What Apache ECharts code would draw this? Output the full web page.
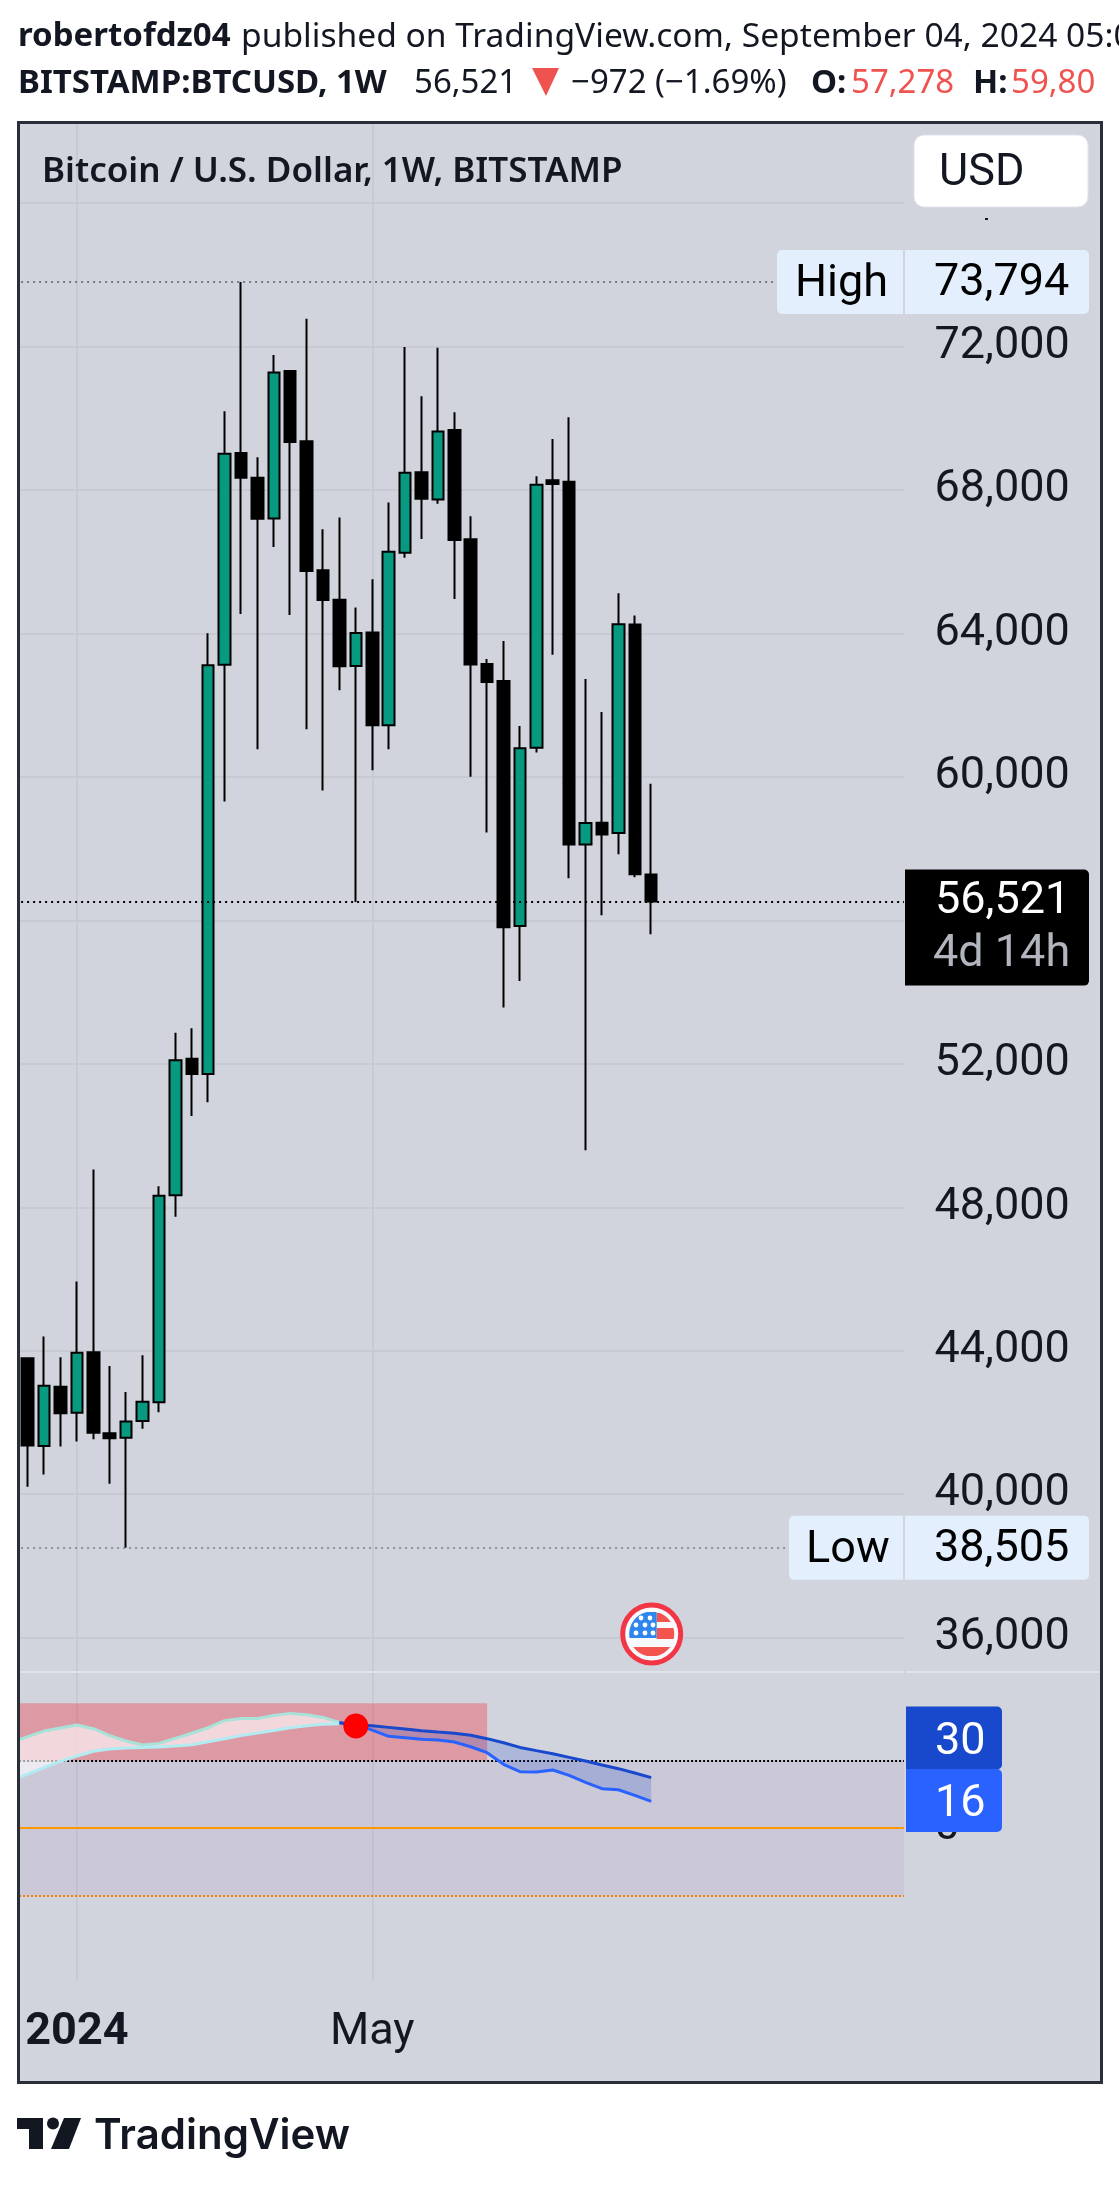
<!DOCTYPE html>
<html>
<head>
<meta charset="utf-8">
<style>html,body{margin:0;padding:0;background:#fff}#c{width:1119px;height:2185px}</style>
<script src="https://cdn.jsdelivr.net/npm/echarts@6/dist/echarts.min.js"></script>
</head>
<body>
<div id="c"></div>
<script>
const categories = ['2023-12-04','2023-12-11','2023-12-18','2023-12-25','2024-01-01','2024-01-08','2024-01-15','2024-01-22','2024-01-29','2024-02-05','2024-02-12','2024-02-19','2024-02-26','2024-03-04','2024-03-11','2024-03-18','2024-03-25','2024-04-01','2024-04-08','2024-04-15','2024-04-22','2024-04-29','2024-05-06','2024-05-13','2024-05-20','2024-05-27','2024-06-03','2024-06-10','2024-06-17','2024-06-24','2024-07-01','2024-07-08','2024-07-15','2024-07-22','2024-07-29','2024-08-05','2024-08-12','2024-08-19','2024-08-26','2024-09-02','2024-09-09','2024-09-16','2024-09-23','2024-09-30','2024-10-07','2024-10-14','2024-10-21','2024-10-28','2024-11-04','2024-11-11','2024-11-18','2024-11-25','2024-12-02','2024-12-09','2024-12-16'];
const opens  = [null,43788,41346,42993,42269,43958,41700,41573,42041,42567,48332,52138,51712,63122,69028,68339,67202,71312,69357,65756,64938,63092,64020,61436,66244,68489,67731,69666,66623,63146,62673,55843,60808,68269,68229,58116,58720,58432,64249,57278];
const closes = [null,41360,43021,42254,43944,41715,41558,42027,42581,48318,52095,51712,63112,69008,68339,67192,71272,69337,65736,64928,63082,64010,61436,66274,68479,67751,69626,66603,63128,62645,55806,60798,68140,68160,58116,58710,58395,64250,57281,56521];
const lows   = [null,40210,40550,41331,41473,41530,40295,38505,41828,42283,47736,50547,50931,59312,64539,60768,66404,64509,61327,59621,62413,56511,60180,60768,66105,66633,67611,64958,60000,58450,53566,54310,60678,63406,57170,49591,56140,57838,57198,55611];
const highs  = [null,43816,44399,43816,45932,49056,43575,42851,43873,48588,52862,52990,64000,70195,73794,68908,71761,71312,72768,66903,67232,64718,65506,67651,71980,70613,71960,70165,67262,63285,63787,61420,68379,69416,70025,62729,61810,65117,64499,59805];
const priceTicks = [36000,40000,44000,48000,52000,56000,60000,64000,68000,72000];
const timeLabels = {'2024-01-01':'{b|2024}','2024-05-06':'{n|May}'};
const highValue = 73794, lowValue = 38505, lastValue = 56521;
const upperPink = [50.6,54.2,57.5,59.3,61.1,58.9,54.8,51.6,49.2,50.2,53.2,56.2,59.5,63.7,65.0,65.0,66.8,68.0,67.2,65.6,62.7];
const lowerPink = [28.3,32.0,35.8,39.5,42.7,45.5,46.9,47.5,47.8,48.0,48.6,49.4,51.2,53.0,54.8,56.3,57.9,59.5,60.7,61.5,61.9];
const pad20 = new Array(20).fill(null);
const darkBlue  = pad20.concat([62.5,61.3,60.7,59.7,58.7,57.7,56.9,56.2,55.0,53.0,50.6,47.8,45.9,44.1,41.9,39.7,37.4,35.2,32.6,29.9]);
const lightBlue = pad20.concat([62.5,61.3,58.1,54.4,53.6,52.6,52.2,51.0,48.2,44.7,37.8,33.4,33.2,34.4,31.2,27.1,23.3,22.7,19.4,15.8]);
const crossIndex = 21, crossValue = 60.5;
const bandRows = [[0,54,-40,40,'rgba(159,102,180,0.1)'],[0,29,40,74,'rgba(242,54,69,0.37)']];
const tagRows = [
  {v:highValue,label:'High',text:'73,794'},
  {v:lowValue,label:'Low',text:'38,505'},
  {v:lastValue,text:'56,521',sub:'4d 14h'}
];
const paneTagRows = [
  {v:30,text:'30',fill:'#1848cc',dy:-39},
  {v:16,text:'16',fill:'#2962ff',dy:0}
];

const FONT='Roboto, sans-serif', HF='"Noto Sans", sans-serif';
const INK='#131722', BG='#d1d4dc', GRID='#c7cad3', RED='#ef5350';
const GL=3.1, GW=902.4, TF='45px '+FONT;
const candleData = categories.map((c,i)=> i<opens.length && opens[i]!==null ? [opens[i],closes[i],lows[i],highs[i]] : ['-','-','-','-']);

function txt(text,x,y,font,fill){
  return {type:'text',z:60,silent:true,style:{text,x,y,font,fill,align:'left',verticalAlign:'middle'}};
}
function chord(x0,x1,y0,y1,fill,z){
  const cx=651.7,cy=1634,R=22.5,L=[],Rr=[];
  for(let y=y0;y<=y1+0.01;y+=1){
    const d=Math.max(0,R*R-(y-cy)*(y-cy)),w=Math.sqrt(d);
    const a=Math.max(x0,cx-w),b=Math.min(x1,cx+w);
    if(a<b){L.unshift([a,y]);Rr.push([b,y]);}
  }
  return {type:'polygon',z:z||56,silent:true,shape:{points:Rr.concat(L)},style:{fill}};
}
function star(x,y){return {type:'circle',z:57,silent:true,shape:{cx:x,cy:y,r:2.4},style:{fill:'#fff'}};}
function renderBand(params,api){
  const cs=params.coordSys;
  const r=bandRows[params.dataIndex];
  const x0=cs.x;
  const x1=r[1]>=categories.length-1?cs.x+cs.width:api.coord([r[1],0])[0];
  const y1=api.coord([0,r[3]])[1], y0=api.coord([0,r[2]])[1];
  return {type:'rect',shape:{x:x0,y:y1,width:x1-x0,height:y0-y1},style:{fill:r[4]}};
}
function polygonBetween(a,b,fill){
  return function(params,api){
    const top=[],bot=[];
    for(let i=0;i<a.length;i++){
      if(a[i]===null||b[i]===null) continue;
      top.push(api.coord([i,a[i]]));
      bot.unshift(api.coord([i,b[i]]));
    }
    return {type:'polygon',shape:{points:top.concat(bot)},style:{fill}};
  };
}
function renderTag(params,api){
  const r=tagRows[params.dataIndex];
  const y=api.coord([0,r.v])[1];
  const ch=[];
  if(r.sub){
    const t=y-32;
    ch.push({type:'rect',shape:{x:905,y:t,width:184,height:116,r:[0,5,5,0]},style:{fill:'#000'}});
    ch.push({type:'text',style:{text:r.text,x:935,y:t+32,font:TF,fill:'#fff',verticalAlign:'middle'}});
    ch.push({type:'text',style:{text:r.sub,x:933,y:t+85,font:TF,fill:'#b2b5be',verticalAlign:'middle'}});
  }else{
    const w=r.label==='High'?312:300, x=1089-w;
    ch.push({type:'rect',shape:{x,y:y-32,width:w,height:64,r:5},style:{fill:'#e3effd'}});
    ch.push({type:'rect',shape:{x:903,y:y-32,width:2,height:64},style:{fill:BG}});
    ch.push({type:'text',style:{text:r.label,x:r.label==='High'?795:806,y:y+3,font:TF,fill:'#000',verticalAlign:'middle'}});
    ch.push({type:'text',style:{text:r.text,x:934,y:y+2,font:TF,fill:'#000',verticalAlign:'middle'}});
  }
  return {type:'group',children:ch};
}
function renderPaneTag(params,api){
  const r=paneTagRows[params.dataIndex];
  const y=api.coord([0,r.v])[1]+r.dy;
  return {type:'group',children:[
    {type:'rect',shape:{x:906,y:y-32,width:96,height:63,r:[0,5,5,0]},style:{fill:r.fill}},
    {type:'text',style:{text:r.text,x:935,y:y+4,font:TF,fill:'#fff',verticalAlign:'middle'}}
  ]};
}

const chart = echarts.init(document.getElementById('c'),null,{renderer:'canvas',width:1119,height:2185});
chart.setOption({
  animation:false,
  backgroundColor:'#fff',
  grid:[
    {left:GL,width:GW,top:202.9,height:1434.8},
    {left:GL,width:GW,top:1676.3,height:303.4},
    {left:GL,width:GW,top:124,height:1856}
  ],
  xAxis:[
    {type:'category',gridIndex:0,data:categories,show:false},
    {type:'category',gridIndex:1,data:categories,show:false},
    {type:'category',gridIndex:2,data:categories,axisLine:{show:false},axisTick:{show:false},splitLine:{show:false},
     axisLabel:{interval:0,margin:30,formatter:v=>timeLabels[v]||'',hideOverlap:false,
       rich:{b:{fontWeight:'bold',fontSize:45,fontFamily:'Roboto',color:INK},n:{fontSize:45,fontFamily:'Roboto',color:INK}}}}
  ],
  yAxis:[
    {type:'value',gridIndex:0,position:'right',min:36000,max:76000,interval:4000,
     axisLine:{show:false},axisTick:{show:false},
     splitLine:{show:true,lineStyle:{color:GRID,width:2}},
     axisLabel:{margin:29,align:'left',fontSize:45,fontFamily:'Roboto',color:INK,padding:[9,0,0,0],
       formatter:v=>priceTicks.includes(v)?v.toLocaleString('en-US'):''}},
    {type:'value',gridIndex:1,position:'right',min:-90,max:90,interval:90,
     axisLine:{show:false},axisTick:{show:false},splitLine:{show:false},
     axisLabel:{margin:29,align:'left',fontSize:45,fontFamily:'Roboto',color:INK,padding:[9,0,0,0],formatter:v=>v===0?'0':''}},
    {type:'value',gridIndex:2,min:0,max:1,show:false}
  ],
  series:[
    {type:'line',xAxisIndex:2,yAxisIndex:2,z:1,silent:true,symbol:'none',data:categories.map(()=>null),
     markLine:{z:1,silent:true,symbol:'none',label:{show:false},lineStyle:{color:GRID,width:2,type:'solid'},
       data:[{xAxis:'2024-01-01'},{xAxis:'2024-05-06'}]}},
    {type:'candlestick',xAxisIndex:0,yAxisIndex:0,z:3,silent:true,clip:false,barWidth:12,data:candleData,
     itemStyle:{color:'#089981',color0:'#000',borderColor:'#000',borderColor0:'#000',borderWidth:2},
     markLine:{z:5,silent:true,symbol:'none',label:{show:false},
       data:[
        {yAxis:highValue,lineStyle:{color:'#787b86',width:2,type:[2,4]}},
        {yAxis:lowValue,lineStyle:{color:'#787b86',width:1.5,type:[2,4]}},
        {yAxis:lastValue,lineStyle:{color:'#000',width:2,type:[2,4]}}
       ]}},
    {type:'custom',xAxisIndex:1,yAxisIndex:1,z:2,silent:true,renderItem:renderBand,data:bandRows.map(r=>[r[0],r[2]])},
    {type:'custom',xAxisIndex:1,yAxisIndex:1,z:3,silent:true,renderItem:polygonBetween(upperPink,lowerPink,'rgba(255,255,255,0.62)'),data:[[0,0]]},
    {type:'custom',xAxisIndex:1,yAxisIndex:1,z:3,silent:true,renderItem:polygonBetween(darkBlue,lightBlue,'rgba(24,72,204,0.2)'),data:[[0,0]]},
    {type:'line',name:'upper',xAxisIndex:1,yAxisIndex:1,z:4,silent:true,symbol:'none',data:upperPink,lineStyle:{color:'#a8e2d8',width:3}},
    {type:'line',name:'lower',xAxisIndex:1,yAxisIndex:1,z:4,silent:true,symbol:'none',data:lowerPink,lineStyle:{color:'#b2ebf2',width:3}},
    {type:'line',name:'fast',xAxisIndex:1,yAxisIndex:1,z:5,silent:true,symbol:'none',connectNulls:false,data:lightBlue,lineStyle:{color:'#2962ff',width:3}},
    {type:'line',name:'slow',xAxisIndex:1,yAxisIndex:1,z:5,silent:true,symbol:'none',connectNulls:false,data:darkBlue,lineStyle:{color:'#1848cc',width:3},
     markLine:{z:3,silent:true,symbol:'none',label:{show:false},
       data:[
        {yAxis:40,lineStyle:{color:'#000',width:2,type:[2,2]}},
        {yAxis:0,lineStyle:{color:'#ff9800',width:2,type:'solid'}},
        {yAxis:-40,lineStyle:{color:'#f57c00',width:2,type:[2,2]}}
       ]}},
    {type:'scatter',xAxisIndex:1,yAxisIndex:1,z:6,silent:true,symbol:'circle',symbolSize:25,data:[[crossIndex,crossValue]],itemStyle:{color:'#ff0000',opacity:1}},
    {type:'custom',xAxisIndex:0,yAxisIndex:0,z:20,silent:true,renderItem:renderTag,data:tagRows.map(r=>[0,r.v])},
    {type:'custom',xAxisIndex:1,yAxisIndex:1,z:20,silent:true,renderItem:renderPaneTag,data:paneTagRows.map(r=>[0,r.v])}
  ],
  graphic:{elements:[
    {type:'rect',z:-5,silent:true,shape:{x:18,y:122,width:1084,height:1960},style:{fill:BG}},
    {type:'rect',z:15,silent:true,shape:{x:904,y:124,width:2,height:1856},style:{fill:BG}},
    {type:'rect',z:50,silent:true,shape:{x:0,y:122,width:18,height:1962},style:{fill:'#fff'}},
    {type:'rect',z:51,silent:true,shape:{x:18.5,y:122.5,width:1083,height:1960},style:{fill:'none',stroke:'#2a2e39',lineWidth:3}},
    {type:'rect',z:2,silent:true,shape:{x:20,y:1671,width:1080,height:2},style:{fill:'#e0e3eb'}},
    {type:'rect',z:52,silent:true,shape:{x:914,y:135,width:174,height:72,r:10},style:{fill:'#fff',stroke:'#e0e3eb',lineWidth:1}},
    {type:'rect',z:52,silent:true,shape:{x:985,y:218,width:3,height:2},style:{fill:INK}},
    txt('USD',939,174,TF,INK),
    txt('robertofdz04',18,37,'bold 33px '+HF,INK),
    txt('published on TradingView.com, September 04, 2024 05:00 UTC',241,37,'33.6px '+HF,INK),
    txt('BITSTAMP:BTCUSD, 1W',18,84,'bold 33px '+HF,INK),
    txt('56,521',414,84,'33px '+HF,INK),
    {type:'polygon',z:60,silent:true,shape:{points:[[532,68],[559,68],[546,96]]},style:{fill:RED}},
    txt('\u2212972 (\u22121.69%)',571,84,'33px '+HF,INK),
    txt('O:',811,84,'bold 33px '+HF,INK),
    txt('57,278',851,84,'33px '+HF,RED),
    txt('H:',973,84,'bold 33px '+HF,INK),
    txt('59,80',1011,84,'33px '+HF,RED),
    txt('Bitcoin / U.S. Dollar, 1W, BITSTAMP',42,172,'600 35px '+HF,INK),
    {type:'circle',z:55,silent:true,shape:{cx:651.7,cy:1634,r:29},style:{fill:'#f8f9fd',stroke:'#f23645',lineWidth:5}},
    chord(656.7,680,1612,1622,'#f4544e'),
    chord(656.7,680,1628,1639,'#f4544e'),
    chord(620,680,1647,1657,'#f4544e'),
    chord(620,656.7,1612,1638,'#2e86ee'),
    star(641,1618),star(650,1618),
    star(636,1625),star(645,1625),star(653,1625),
    star(636,1633),star(645,1633),star(653,1633),
    {type:'rect',z:57,silent:true,shape:{x:17,y:2118,width:26,height:11},style:{fill:INK}},
    {type:'rect',z:57,silent:true,shape:{x:29,y:2118,width:14,height:31},style:{fill:INK}},
    {type:'circle',z:57,silent:true,shape:{cx:53,cy:2123.5,r:6},style:{fill:INK}},
    {type:'polygon',z:57,silent:true,shape:{points:[[64,2118],[81,2118],[69,2149],[51,2149]]},style:{fill:INK}},
    txt('TradingView',94,2136,'600 42px Inter, sans-serif',INK)
  ]}
});
</script>
</body>
</html>
